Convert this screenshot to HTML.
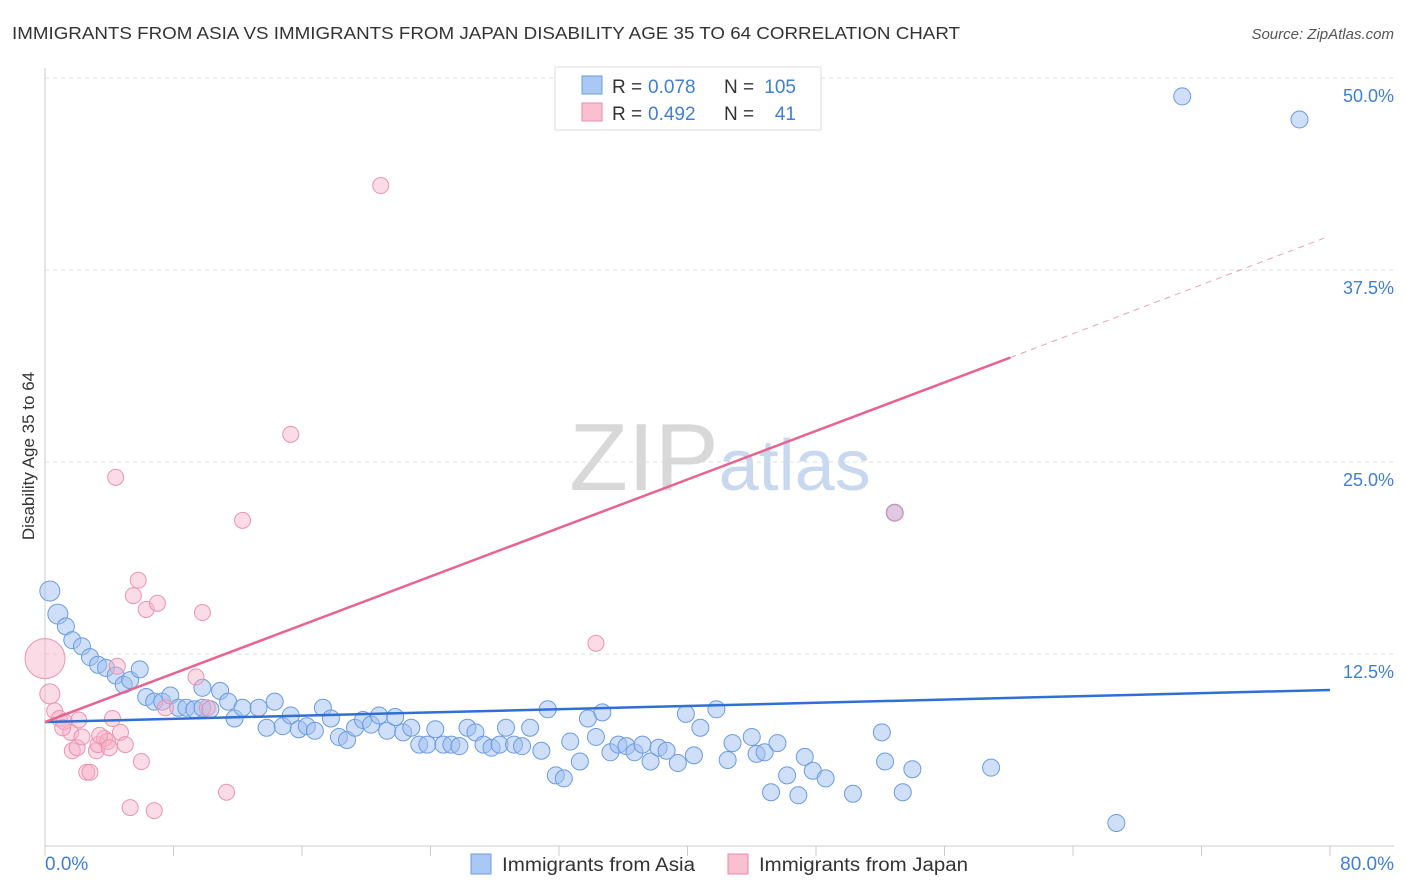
<!DOCTYPE html>
<html><head><meta charset="utf-8"><style>
body{margin:0;background:#fff;font-family:"Liberation Sans",sans-serif;}
#wrap{position:relative;width:1406px;height:892px;overflow:hidden;}
svg text{font-family:"Liberation Sans",sans-serif;}
</style></head><body>
<div id="wrap">
<svg id="chart" width="1406" height="892" xmlns="http://www.w3.org/2000/svg">
<text x="12" y="39" font-size="17.5" fill="#333" textLength="948" lengthAdjust="spacingAndGlyphs">IMMIGRANTS FROM ASIA VS IMMIGRANTS FROM JAPAN DISABILITY AGE 35 TO 64 CORRELATION CHART</text>
<text x="1394" y="39" font-size="15" fill="#555" font-style="italic" text-anchor="end">Source: ZipAtlas.com</text>
<text x="720" y="490" font-size="96" fill="#d8d8d8" text-anchor="middle" font-family="Liberation Serif">ZIP<tspan fill="#c8d8ee" font-family="Liberation Sans" font-size="72">atlas</tspan></text>
<g id="grid"></g>
<g id="axes"></g>
<g id="pts"></g>
<g id="trends"></g>
<text transform="translate(34,456) rotate(-90)" font-size="17" fill="#333" text-anchor="middle">Disability Age 35 to 64</text>
<g>
<rect x="555" y="67" width="266" height="63" fill="#fff" stroke="#ddd"/>
<rect x="582" y="76" width="20" height="18" fill="#a9c8f4" stroke="#6b9be0"/>
<rect x="582" y="103" width="20" height="18" fill="#f8c0d0" stroke="#e88aa8"/>
<text x="612" y="93" font-size="19" fill="#333">R =</text>
<text x="648" y="93" font-size="19" fill="#3f7fd6">0.078</text>
<text x="724" y="93" font-size="19" fill="#333">N =</text>
<text x="796" y="93" font-size="19" fill="#3f7fd6" text-anchor="end">105</text>
<text x="612" y="120" font-size="19" fill="#333">R =</text>
<text x="648" y="120" font-size="19" fill="#3f7fd6">0.492</text>
<text x="724" y="120" font-size="19" fill="#333">N =</text>
<text x="796" y="120" font-size="19" fill="#3f7fd6" text-anchor="end">41</text>
</g>
<g>
<rect x="471" y="854" width="20" height="20" fill="#a9c8f4" stroke="#6b9be0"/>
<text x="502" y="871" font-size="19" fill="#333" textLength="193" lengthAdjust="spacingAndGlyphs">Immigrants from Asia</text>
<rect x="728" y="854" width="20" height="20" fill="#f8c0d0" stroke="#e88aa8"/>
<text x="759" y="871" font-size="19" fill="#333" textLength="209" lengthAdjust="spacingAndGlyphs">Immigrants from Japan</text>
</g>
<text x="45" y="870" font-size="19" fill="#3f7fd6">0.0%</text>
<text x="1394" y="870" font-size="19" fill="#3f7fd6" text-anchor="end">80.0%</text>
</svg>
</div>
<script>
const yTicks=[12.5,25,37.5,50];
const yTickLabels=["12.5%","25.0%","37.5%","50.0%"];
const asiaX=[0.3,0.8,1.3,1.7,2.3,2.8,3.3,3.8,4.4,4.9,5.3,5.9,6.3,6.8,7.3,7.8,8.3,8.8,9.3,9.8,10.3,9.8,10.9,11.4,11.8,12.3,13.3,13.8,14.3,14.8,15.3,15.8,16.3,16.8,17.3,17.8,18.3,18.8,19.3,19.8,20.3,20.8,21.3,21.8,22.3,22.8,23.3,23.8,24.3,24.8,25.3,25.8,26.3,26.8,27.3,27.8,28.3,28.7,29.2,29.7,30.2,30.9,31.3,31.8,32.3,32.7,33.3,33.8,34.3,34.7,35.2,35.7,36.2,36.7,37.2,37.7,38.2,38.7,39.4,39.9,40.4,40.8,41.8,42.5,42.8,44.0,44.3,44.8,45.2,45.6,46.2,46.9,47.3,47.8,48.6,50.3,52.1,52.3,53.4,54.0,58.9,66.7,70.8,78.1,52.9];
const asiaY=[16.6,15.1,14.3,13.4,13.0,12.3,11.8,11.6,11.1,10.5,10.8,11.5,9.7,9.4,9.4,9.8,9.0,9.0,8.9,9.0,8.9,10.3,10.1,9.4,8.3,9.0,9.0,7.7,9.4,7.8,8.5,7.6,7.8,7.5,9.0,8.3,7.1,6.9,7.7,8.2,7.9,8.5,7.5,8.4,7.4,7.7,6.6,6.6,7.6,6.6,6.6,6.5,7.7,7.4,6.6,6.4,6.6,7.7,6.6,6.5,7.7,6.2,8.9,4.6,4.4,6.8,5.5,8.3,7.1,8.7,6.1,6.6,6.5,6.1,6.6,5.5,6.4,6.2,5.4,8.6,5.9,7.7,8.9,5.6,6.7,7.1,6.0,6.1,3.5,6.7,4.6,3.3,5.8,4.9,4.4,3.4,7.4,5.5,3.5,5.0,5.1,1.5,48.8,47.3,21.7];
const japanX=[0,0.3,0.6,0.9,1.2,1.6,1.7,2.0,2.3,2.6,2.8,3.2,3.3,3.7,3.9,4.0,4.2,4.5,4.7,5.0,5.3,5.5,5.8,6.0,6.3,6.8,7.0,7.5,9.4,9.8,10.1,11.3,12.3,15.3,20.9,4.4,34.3,2.1,1.1,3.4,52.9];
const japanY=[12.2,9.9,8.8,8.3,8.1,7.4,6.2,6.4,7.1,4.8,4.8,6.2,6.6,7.0,6.8,6.4,8.3,11.7,7.4,6.6,2.5,16.3,17.3,5.5,15.4,2.3,15.8,9.0,11.0,15.2,9.0,3.5,21.2,26.8,43.0,24.0,13.2,8.2,7.7,7.2,21.7];
const asiaTrend=[8.07,10.16];
const japanTrend=[8.07,31.8,39.6];
const japanTrendX=[0,60.1,79.7];

const X0=45,X1=1330,Y0=846,PXPCT=15.36;
const sx=v=>X0+(v/80)*(X1-X0);
const sy=v=>Y0-v*PXPCT;
const NS="http://www.w3.org/2000/svg";
function mk(tag,attrs,parent){const e=document.createElementNS(NS,tag);for(const k in attrs)e.setAttribute(k,attrs[k]);parent.appendChild(e);return e;}
const grid=document.getElementById('grid'),axes=document.getElementById('axes'),pts=document.getElementById('pts'),tr=document.getElementById('trends');
yTicks.forEach((t,i)=>{
 const l=mk('line',{x1:X0,x2:1394,y1:sy(t),y2:sy(t),stroke:'#dcdcdc','stroke-dasharray':'4,4'},grid);
 
 
 const tx=mk('text',{x:1394,y:sy(t)+24,'font-size':18,fill:'#3f7fd6','text-anchor':'end'},grid);
 tx.textContent=yTickLabels[i];
 
 
});
const ax=mk('line',{x1:X0,x2:X0,y1:68,y2:Y0,stroke:'#ccc'},axes);


const bx=mk('line',{x1:X0,x2:1394,y1:Y0,y2:Y0,stroke:'#ccc'},axes);


for(let i=0;i<=10;i++){
 const t=mk('line',{x1:sx(i*8),x2:sx(i*8),y1:Y0,y2:Y0+10,stroke:'#ccc'},axes);
 
 
}
asiaX.forEach((x,i)=>{
 const r=i<2?10:8.5;
 const c=mk('circle',{cx:sx(x),cy:sy(asiaY[i]),r:r,fill:'rgba(160,192,242,0.5)',stroke:'#6b9be0','stroke-width':1},pts);
 
 
});
japanX.forEach((x,i)=>{
 const r=i==0?20:(i==1?10:8);
 const c=mk('circle',{cx:sx(x),cy:sy(japanY[i]),r:r,fill:'rgba(247,176,198,0.45)',stroke:'#ea94b0','stroke-width':1},pts);
 
 
});
const bl=mk('line',{x1:sx(0),y1:sy(asiaTrend[0]),x2:sx(80),y2:sy(asiaTrend[1]),stroke:'#2f6fd6','stroke-width':2.5},tr);


const pl=mk('line',{x1:sx(japanTrendX[0]),y1:sy(japanTrend[0]),x2:sx(japanTrendX[1]),y2:sy(japanTrend[1]),stroke:'#e8648e','stroke-width':2.5},tr);


const pd=mk('line',{x1:sx(japanTrendX[1]),y1:sy(japanTrend[1]),x2:sx(japanTrendX[2]),y2:sy(japanTrend[2]),stroke:'#eaa0b8','stroke-width':1,'stroke-dasharray':'6,5'},tr);


</script>
</body></html>
